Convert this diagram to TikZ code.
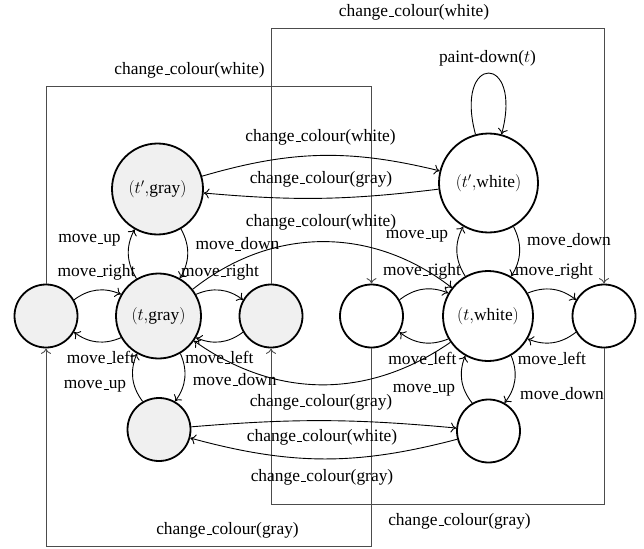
\documentclass[tikz,border=0pt]{standalone}
\usepackage{fontspec}
\setmainfont{Liberation Serif}
\usetikzlibrary{arrows.meta}
\newcommand\usc{\leavevmode\kern.06em\vbox{\hrule width.3em}}
\begin{document}
\begin{tikzpicture}[x=1pt,y=-1pt,
  font=\fontsize{17.4}{20}\selectfont,
  state/.style={circle, draw, line width=1.8pt, inner sep=0pt},
  gstate/.style={state, fill=black!6},
  edgeline/.style={line width=0.9pt, -{To[length=5.5pt,width=10pt]}},
  boxline/.style={line width=0.9pt, draw=black!70, -{To[length=5.5pt,width=10pt]}},
  lbl/.style={inner sep=0pt}]
\useasboundingbox (0,0) rectangle (644,548);

% states
\node[gstate, minimum size=91pt] (tpg) at (157.5,189) {$(t'{,}\mbox{gray})$};
\node[gstate, minimum size=85pt] (tg) at (158.5,316) {$(t{,}\mbox{gray})$};
\node[gstate, minimum size=63pt] (gl) at (46,316) {};
\node[gstate, minimum size=63pt] (gr) at (271,316) {};
\node[gstate, minimum size=63pt] (gb) at (159,429.5) {};
\node[state, minimum size=99pt] (tpw) at (488.5,183) {$(t'{,}\mbox{white})$};
\node[state, minimum size=90pt] (tw) at (488,316) {$(t{,}\mbox{white})$};
\node[state, minimum size=63pt] (wl) at (371.5,316) {};
\node[state, minimum size=63pt] (wr) at (604,316) {};
\node[state, minimum size=63pt] (wb) at (488.5,431) {};

% frame coordinates
\coordinate (ltop) at (0,86);
\coordinate (lbot) at (0,546);
\coordinate (rtop) at (0,28);
\coordinate (rbot) at (0,504);

% colour-change frames
\draw[boxline] (gl.north) -- (gl.north |- ltop) -- (wl.north |- ltop) -- (wl.north);
\draw[boxline] (wl.south) -- (wl.south |- lbot) -- (gl.south |- lbot) -- (gl.south);
\draw[boxline] (gr.north) -- (gr.north |- rtop) -- (wr.north |- rtop) -- (wr.north);
\draw[boxline] (wr.south) -- (wr.south |- rbot) -- (gr.south |- rbot) -- (gr.south);

% gray cluster moves
\draw[edgeline] (tpg) to[bend left=30] (tg);
\draw[edgeline] (tg) to[bend left=30] (tpg);
\draw[edgeline] (gl) to[bend left=30] (tg);
\draw[edgeline] (tg) to[bend left=30] (gl);
\draw[edgeline] (tg) to[bend left=30] (gr);
\draw[edgeline] (gr) to[bend left=30] (tg);
\draw[edgeline] (tg) to[bend left=30] (gb);
\draw[edgeline] (gb) to[bend left=30] (tg);

% white cluster moves
\draw[edgeline] (tpw) to[bend left=30] (tw);
\draw[edgeline] (tw) to[bend left=30] (tpw);
\draw[edgeline] (wl) to[bend left=30] (tw);
\draw[edgeline] (tw) to[bend left=30] (wl);
\draw[edgeline] (tw) to[bend left=30] (wr);
\draw[edgeline] (wr) to[bend left=30] (tw);
\draw[edgeline] (tw) to[bend left=30] (wb);
\draw[edgeline] (wb) to[bend left=30] (tw);
\draw[edgeline] (tpw) to[out=105,in=75,looseness=8.3] (tpw);

% colour changes between clusters
\draw[edgeline] (tpg) to[bend left=15] (tpw);
\draw[edgeline] (tpw) to[bend left=6] (tpg);
\draw[edgeline] (tg) to[bend left=38] (tw);
\draw[edgeline] (tw) to[bend left=35] (tg);
\draw[edgeline] (gb) to[bend left=5] (wb);
\draw[edgeline] (wb) to[bend left=15] (gb);

% labels
\node[lbl] (c1) at (189.5,70) {change\usc colour(white)};
\node[lbl] (c2) at (414,12) {change\usc colour(white)};
\node[lbl] (c3) at (227.5,530) {change\usc colour(gray)};
\node[lbl] (c4) at (459.5,521) {change\usc colour(gray)};
\node[lbl] (c5) at (320.5,137) {change\usc colour(white)};
\node[lbl] (c6) at (321,179) {change\usc colour(gray)};
\node[lbl] (c7) at (321,222) {change\usc colour(white)};
\node[lbl] (c8) at (321,402) {change\usc colour(gray)};
\node[lbl] (c9) at (322,437) {change\usc colour(white)};
\node[lbl] (c10) at (322,477) {change\usc colour(gray)};
\node[lbl] (pd) at (487.5,58) {paint-down($t$)};

\node[lbl] (g1) at (89.5,240.7) {move\usc up};
\node[lbl] (g2) at (237.5,244) {move\usc down};
\node[lbl] (g3) at (96.5,272.7) {move\usc right};
\node[lbl] (g4) at (220,272.7) {move\usc right};
\node[lbl] (g5) at (101,357.3) {move\usc left};
\node[lbl] (g6) at (219.5,357.3) {move\usc left};
\node[lbl] (g7) at (95,386.7) {move\usc up};
\node[lbl] (g8) at (234.7,379.3) {move\usc down};

\node[lbl] (w1) at (417,236) {move\usc up};
\node[lbl] (w2) at (569,240) {move\usc down};
\node[lbl] (w3) at (422,271.7) {move\usc right};
\node[lbl] (w4) at (554,271.7) {move\usc right};
\node[lbl] (w5) at (422.5,358.3) {move\usc left};
\node[lbl] (w6) at (552,358.3) {move\usc left};
\node[lbl] (w7) at (424,390) {move\usc up};
\node[lbl] (w8) at (562,393.3) {move\usc down};
\end{tikzpicture}
\end{document}
